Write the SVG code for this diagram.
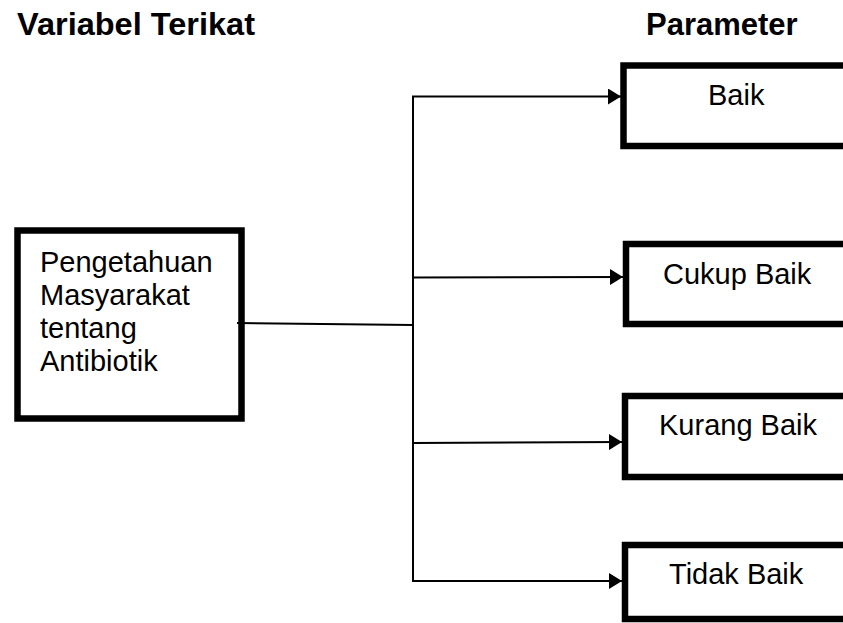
<svg xmlns="http://www.w3.org/2000/svg" width="843" height="623" viewBox="0 0 843 623">
<style>
.box{fill:#fff;stroke:#000;stroke-width:6.5}
.t{font-family:"Liberation Sans",Arial,sans-serif;font-size:29px;fill:#000}
.h{font-family:"Liberation Sans",Arial,sans-serif;font-size:31px;font-weight:bold;fill:#000}
.c{fill:none;stroke:#000;stroke-width:2}
</style>
<defs>
<marker id="arr" markerWidth="13" markerHeight="16" refX="13" refY="8" orient="auto" markerUnits="userSpaceOnUse">
<path d="M0,0 L13,8 L0,16 Z" fill="#000"/>
</marker>
</defs>
<rect width="843" height="623" fill="#fff"/>
<g id="headings">
<text class="h" x="17" y="35" textLength="238" lengthAdjust="spacingAndGlyphs">Variabel Terikat</text>
<text class="h" x="646" y="35">Parameter</text>
</g>
<g id="node-pengetahuan">
<rect class="box" x="17.5" y="230.5" width="224" height="188"/>
<text class="t" x="40" y="272">Pengetahuan</text>
<text class="t" x="40" y="305">Masyarakat</text>
<text class="t" x="40" y="338">tentang</text>
<text class="t" x="40" y="371">Antibiotik</text>
</g>
<g id="node-baik">
<rect class="box" x="623.5" y="65.5" width="240" height="80.5"/>
<text class="t" x="708" y="105">Baik</text>
</g>
<g id="node-cukup">
<rect class="box" x="626" y="244" width="240" height="80"/>
<text class="t" x="663" y="284">Cukup Baik</text>
</g>
<g id="node-kurang">
<rect class="box" x="625" y="396" width="240" height="81"/>
<text class="t" x="659" y="435">Kurang Baik</text>
</g>
<g id="node-tidak">
<rect class="box" x="625" y="545" width="240" height="74"/>
<text class="t" x="669" y="584">Tidak Baik</text>
</g>
<g id="connectors">
<line class="c" x1="237" y1="323" x2="413" y2="325"/>
<line class="c" x1="413" y1="96" x2="413" y2="582"/>
<line class="c" x1="412" y1="96.5" x2="621" y2="96.5" marker-end="url(#arr)"/>
<line class="c" x1="413" y1="277.5" x2="623" y2="277" marker-end="url(#arr)"/>
<line class="c" x1="413" y1="443" x2="622" y2="442" marker-end="url(#arr)"/>
<line class="c" x1="412" y1="581" x2="622" y2="581" marker-end="url(#arr)"/>
</g>
</svg>
